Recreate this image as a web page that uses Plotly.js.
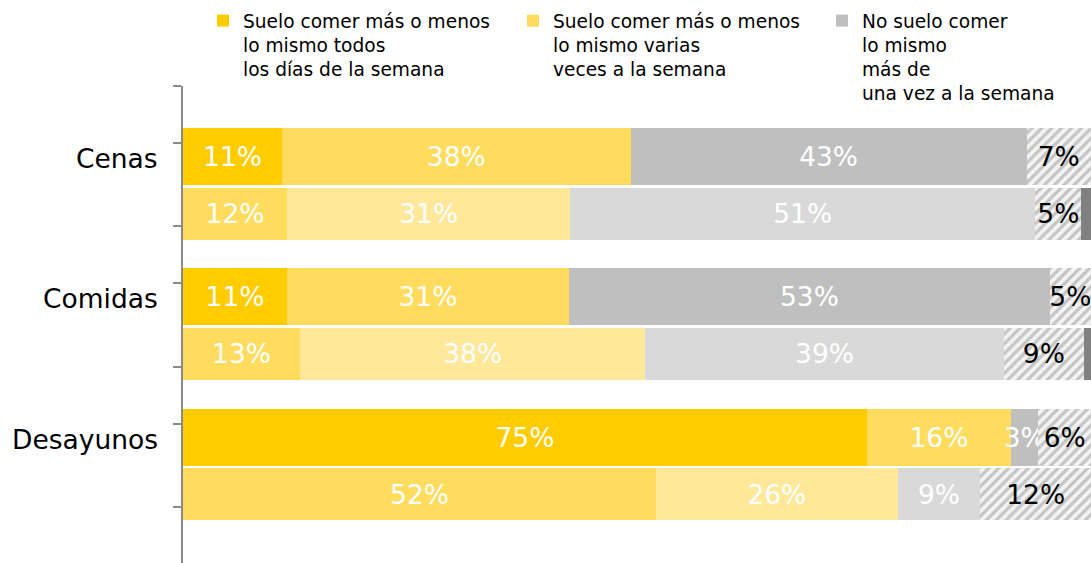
<!DOCTYPE html>
<html>
<head>
<meta charset="utf-8">
<script src="https://cdn.plot.ly/plotly-3.0.1.min.js"></script>
<style>
  html, body { margin: 0; padding: 0; background: #fff; }
  #chart { width: 1091px; height: 563px; }
</style>
</head>
<body>
<div id="chart"></div>
<script>
// ---- Data ----
const categories = ["Cenas", "Comidas", "Desayunos"];
// rows: for each category a top row and a bottom row
const seg1 = [10.9, 11.45, 11.45, 12.9, 75.3, 52.1];     // todos los días
const seg2 = [38.4, 31.2, 31.05, 38.0, 15.9, 26.6];      // varias veces
const seg3 = [43.6, 51.2, 52.97, 39.5, 3.0, 9.1];        // no suelo
const seg4 = [7.1, 5.1, 4.5, 8.8, 5.8, 12.2];            // hatched remainder
const seg5 = [null, 1.07, null, 0.77, null, null];       // dark sliver
const label1 = ["11%", "12%", "11%", "13%", "75%", "52%"];
const label2 = ["38%", "31%", "31%", "38%", "16%", "26%"];
const label3 = ["43%", "51%", "53%", "39%", "3%", "9%"];
const label4 = ["7%", "5%", "5%", "9%", "6%", "12%"];
const legendNames = [
  "Suelo comer más o menos<br>lo mismo todos<br>los días de la semana",
  "Suelo comer más o menos<br>lo mismo varias<br>veces a la semana",
  "No suelo comer<br>lo mismo<br>más de<br>una vez a la semana"
];

// ---- Layout constants ----
const FONT = "DejaVu Sans, Verdana, sans-serif";
const PLOT_H = 477;
const FIRST_TOP = 70.5, GROUP_STEP = 140.25, PAIR_STEP = 57;
const TOP_W = 57, BOT_W = 52;

const yPos = [], widths = [];
categories.forEach((c, g) => {
  yPos.push(FIRST_TOP + g * GROUP_STEP); widths.push(TOP_W);
  yPos.push(FIRST_TOP + g * GROUP_STEP + PAIR_STEP); widths.push(BOT_W);
});
const tickv = [];
for (let g = 0; g <= categories.length; g++) {
  tickv.push(g * GROUP_STEP);
  if (g < categories.length) tickv.push(g * GROUP_STEP + PAIR_STEP);
}

const alt = (a, b) => yPos.map((_, i) => (i % 2 === 0 ? a : b));

function barTrace(x, text, colors, name, legend, textColor) {
  return {
    type: "bar", orientation: "h", x: x, y: yPos, width: widths,
    name: name || "", legend: legend, showlegend: !!name,
    marker: { color: colors, line: { width: 0 } },
    text: text, textposition: text ? "inside" : "none",
    insidetextanchor: "middle", constraintext: "none", textangle: 0,
    textfont: { family: FONT, size: 26.5, color: textColor || "#ffffff" },
    hoverinfo: "skip"
  };
}

const traces = [
  barTrace(seg1, label1, alt("#FFCC00", "#FFDC5E"), legendNames[0], "legend"),
  barTrace(seg2, label2, alt("#FFDC5E", "#FFE89A"), legendNames[1], "legend2"),
  barTrace(seg3, label3, alt("#BFBFBF", "#D9D9D9"), legendNames[2], "legend3"),
  Object.assign(barTrace(seg4, label4, "#C4C4C4", null, "legend", "#000000"), {
    marker: { color: "#C4C4C4", line: { width: 0 },
      pattern: { shape: "/", fgcolor: "#C4C4C4", bgcolor: "#F3F3F3", size: 7, solidity: 0.45 } }
  }),
  barTrace(seg5, null, "#808080", null, "legend")
];

const legendBase = {
  orientation: "v", yanchor: "top", xanchor: "left", valign: "top",
  font: { family: FONT, size: 18.6, color: "#000" },
  bgcolor: "rgba(0,0,0,0)", borderwidth: 0, tracegroupgap: 0
};
const yLeg = 1 + (86 - 2) / PLOT_H;

const annotations = categories.map((c, g) => ({
  xref: "paper", yref: "y", x: 0, y: yPos[2 * g], xanchor: "right", yanchor: "middle",
  xshift: -23, yshift: -2, text: c, showarrow: false,
  font: { family: FONT, size: 26.5, color: "#000" }
}));

const layout = {
  width: 1091, height: 563,
  margin: { l: 183, r: 0, t: 86, b: 0, pad: 0 },
  paper_bgcolor: "#fff", plot_bgcolor: "#fff",
  barmode: "stack",
  hovermode: false,
  showlegend: true,
  legend: Object.assign({}, legendBase, { x: (203 - 183) / 908, y: yLeg }),
  legend2: Object.assign({}, legendBase, { x: (513 - 183) / 908, y: yLeg }),
  legend3: Object.assign({}, legendBase, { x: (822 - 183) / 908, y: yLeg }),
  xaxis: { range: [0, 100], visible: false, fixedrange: true },
  yaxis: {
    range: [PLOT_H, 0], showgrid: false, zeroline: false,
    showline: true, linecolor: "#8A8A8A", linewidth: 2,
    tickmode: "array", tickvals: tickv, ticks: "outside", ticklen: 8,
    tickwidth: 2, tickcolor: "#8A8A8A", showticklabels: false, fixedrange: true
  },
  annotations: annotations,
  font: { family: FONT }
};

Plotly.newPlot("chart", traces, layout, { displayModeBar: false, staticPlot: true });
</script>
</body>
</html>
